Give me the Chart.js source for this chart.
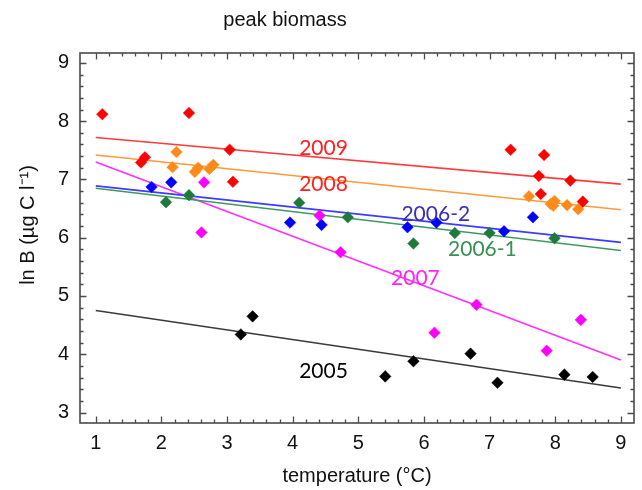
<!DOCTYPE html>
<html><head><meta charset="utf-8">
<script src="https://cdn.jsdelivr.net/npm/chart.js@4/dist/chart.umd.min.js"></script>
<style>html,body{margin:0;padding:0;background:#fff}#wrap{width:642px;height:490px;position:relative}</style>
</head><body><div id="wrap"><canvas id="c"></canvas></div>
<script>
// ---- data ----
const x2009 = [1.10, 2.42, 1.69, 1.75, 3.04, 3.09, 7.32, 7.83, 7.75, 8.23, 7.78, 8.42];
const y2009 = [8.12, 8.14, 7.29, 7.38, 7.51, 6.96, 7.51, 7.42, 7.06, 6.98, 6.75, 6.62];
const x2008 = [2.23, 2.17, 2.51, 2.56, 2.73, 2.79, 7.60, 7.93, 7.99, 7.97, 8.18, 8.35];
const y2008 = [7.47, 7.21, 7.13, 7.20, 7.18, 7.25, 6.71, 6.58, 6.63, 6.55, 6.56, 6.49];
const x2006b = [1.85, 2.15, 3.96, 4.44, 5.75, 6.19, 7.22, 7.66];
const y2006b = [6.87, 6.95, 6.26, 6.22, 6.18, 6.26, 6.11, 6.35];
const x2006a = [2.07, 2.42, 4.10, 4.84, 5.84, 6.47, 7.00, 7.99];
const y2006a = [6.61, 6.73, 6.60, 6.35, 5.90, 6.08, 6.08, 5.99];
const x2007 = [2.65, 2.61, 4.41, 4.73, 6.16, 6.80, 7.87, 8.39];
const y2007 = [6.95, 6.09, 6.38, 5.75, 4.37, 4.85, 4.06, 4.59];
const x2005 = [3.21, 3.39, 5.41, 5.84, 6.71, 7.12, 8.14, 8.57];
const y2005 = [4.34, 4.65, 3.62, 3.88, 4.01, 3.51, 3.65, 3.61];
// fitted lines (values at the two ends)
const fitX = [1, 9];
const fit2009 = [7.72, 6.92];
const fit2008 = [7.42, 6.48];
const fit2006b = [6.89, 5.92];
const fit2006a = [6.85, 5.78];
const fit2007 = [7.30, 3.90];
const fit2005 = [4.75, 3.42];
// series labels and where they sit (data coords)
const seriesNames = ['2009', '2008', '2006-2', '2006-1', '2007', '2005'];
const labelX = [4.47, 4.47, 6.18, 6.89, 5.87, 4.47];
const labelY = [7.53, 6.91, 6.41, 5.80, 5.30, 3.70];
const xTickValues = [1, 2, 3, 4, 5, 6, 7, 8, 9];
const yTickValues = [3, 4, 5, 6, 7, 8, 9];

const pointColors = ['#ff0000', '#ff8a1a', '#0000ff', '#1d7a3c', '#ff00ff', '#000000'];
const lineColors  = ['#ff3c3c', '#ff9a3a', '#3c3cff', '#3f9a5e', '#ff30ff', '#3a3a3a'];
const labelColors = ['#ff2020', '#ff2020', '#3a30b8', '#3a9055', '#ff22ff', '#000000'];

const xs = [x2009, x2008, x2006b, x2006a, x2007, x2005];
const ys = [y2009, y2008, y2006b, y2006a, y2007, y2005];
const fits = [fit2009, fit2008, fit2006b, fit2006a, fit2007, fit2005];

const pts = (xa, ya) => xa.map((v, i) => ({x: v, y: ya[i]}));

const datasets = [];
seriesNames.forEach((n, i) => {
  datasets.push({
    type: 'scatter', label: n, data: pts(xs[i], ys[i]), order: 1,
    pointStyle: 'rectRot', pointRadius: 5.8, pointHoverRadius: 5.8,
    backgroundColor: pointColors[i], borderColor: pointColors[i], borderWidth: 0.5
  });
  datasets.push({
    type: 'line', label: n + ' fit', data: pts(fitX, fits[i]), order: 2,
    borderColor: lineColors[i], borderWidth: 1.6, pointRadius: 0, fill: false, tension: 0
  });
});

const frame = {
  id: 'frame',
  beforeDatasetsDraw(chart) {
    const {ctx, chartArea: a, scales: {x, y}} = chart;
    ctx.save();
    ctx.strokeStyle = '#4a4a4a';
    ctx.lineWidth = 1.3;
    ctx.beginPath();
    for (let k = 0; k <= 40; k++) {
      const v = 1 + k * 0.2;
      const px = Math.round(x.getPixelForValue(v)) + 0.5;
      const len = (k % 5 === 0) ? 6.5 : 3.5;
      ctx.moveTo(px, a.bottom); ctx.lineTo(px, a.bottom - len);
      ctx.moveTo(px, a.top); ctx.lineTo(px, a.top + len);
    }
    for (let k = 0; k <= 30; k++) {
      const v = 3 + k * 0.2;
      const py = Math.round(y.getPixelForValue(v)) + 0.5;
      const len = (k % 5 === 0) ? 6.5 : 3.5;
      ctx.moveTo(a.left, py); ctx.lineTo(a.left + len, py);
      ctx.moveTo(a.right, py); ctx.lineTo(a.right - len, py);
    }
    ctx.stroke();
    ctx.lineWidth = 1.6;
    ctx.strokeRect(a.left, a.top, a.right - a.left, a.bottom - a.top);
    ctx.restore();
  },
  afterDatasetsDraw(chart) {
    const {ctx, scales: {x, y}} = chart;
    ctx.save();
    ctx.font = '21px Lato';
    ctx.textAlign = 'center';
    ctx.textBaseline = 'middle';
    seriesNames.forEach((n, i) => {
      ctx.fillStyle = labelColors[i];
      ctx.fillText(n, x.getPixelForValue(labelX[i]), y.getPixelForValue(labelY[i]));
    });
    ctx.restore();
  },
  afterDraw(chart) {
    const {ctx} = chart;
    ctx.save();
    ctx.fillStyle = '#111';
    ctx.textAlign = 'center';
    ctx.textBaseline = 'middle';
    ctx.font = '20px "Liberation Sans", Arial';
    ctx.fillText('peak biomass', 285, 20);
    ctx.translate(28, 225);
    ctx.rotate(-Math.PI / 2);
    ctx.fillText('ln B (µg C l⁻¹)', 0, 0);
    ctx.restore();
  }
};

new Chart(document.getElementById('c'), {
  data: {datasets},
  options: {
    responsive: true, maintainAspectRatio: false, animation: false,
    layout: {padding: {top: 53, right: 8, left: 0, bottom: 0}},
    plugins: {legend: {display: false}, tooltip: {enabled: false}, title: {display: false}},
    scales: {
      x: {
        type: 'linear', min: 0.76, max: 9.2,
        grid: {display: false, drawTicks: false}, border: {display: false},
        afterBuildTicks: s => { s.ticks = xTickValues.map(v => ({value: v})); },
        afterFit: s => { s.height = 67; },
        ticks: {color: '#111', font: {family: '"Liberation Sans", Arial', size: 20}, padding: 8, maxRotation: 0},
        title: {display: true, text: 'temperature (°C)', color: '#111',
                font: {family: '"Liberation Sans", Arial', size: 20}, padding: {top: 0, bottom: 2}}
      },
      y: {
        type: 'linear', min: 2.82, max: 9.17,
        grid: {display: false, drawTicks: false}, border: {display: false},
        afterBuildTicks: s => { s.ticks = yTickValues.map(v => ({value: v})); },
        afterFit: s => { s.width = 80; },
        ticks: {color: '#111', font: {family: '"Liberation Sans", Arial', size: 20}, padding: 11}
      }
    }
  },
  plugins: [frame]
});
</script></body></html>
